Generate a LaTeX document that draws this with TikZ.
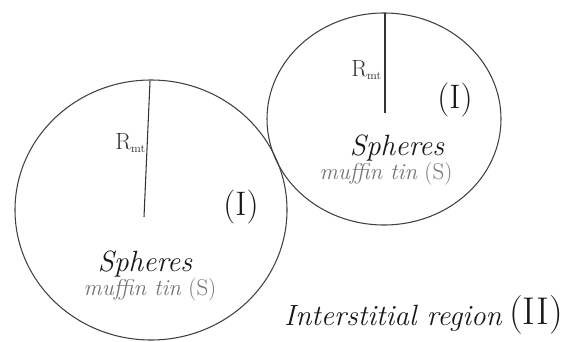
\documentclass[tikz,border=0pt]{standalone}
\begin{document}
\begin{tikzpicture}[x=0.03cm,y=-0.03cm,
  sphere/.style={draw=black!75,line width=0.9pt},
  radline/.style={draw=black!80,line width=0.9pt},
  sph/.style={inner sep=0pt,font=\fontsize{25}{27}\selectfont\itshape,text=black!90},
  muf/.style={inner sep=0pt,font=\fontsize{19.5}{21}\selectfont,text=black!55},
  rom/.style={inner sep=0pt,font=\fontsize{29}{31}\selectfont,text=black!90},
  rmt/.style={inner sep=0pt,font=\fontsize{20}{22}\selectfont,text=black!80}]
\useasboundingbox (0,0) rectangle (570,342);
\fill[white] (0,0) rectangle (570,342);
% spheres
\draw[sphere] (151,210) ellipse [x radius=136, y radius=130];
\draw[sphere] (384,119) ellipse [x radius=117, y radius=106];
% radii
\coordinate (c1) at (144,217);
\coordinate (t1) at (150,81);
\coordinate (c2) at (385,113);
\coordinate (t2) at (385,13);
\draw[radline] (t1) -- (c1);
\draw[radline] (t2) -- (c2);
% labels big sphere
\node[rmt,anchor=east] (r1) at (146,143) {R\textsubscript{\fontsize{10}{11}\selectfont mt}};
\node[rom] (i1) at (241,207) {(I)};
\node[sph] (s1) at (145,264) {Spheres};
\node[muf] (m1) at (150,290) {\textit{muffin tin} (S)};
% labels small sphere
\node[rmt,anchor=east] (r2) at (382,70) {R\textsubscript{\fontsize{10}{11}\selectfont mt}};
\node[rom] (i2) at (455,100) {(I)};
\node[sph] (s2) at (397,148) {Spheres};
\node[muf] (m2) at (386,174) {\textit{muffin tin} (S)};
% interstitial
\node[inner sep=0pt,anchor=east,font=\fontsize{25}{27}\selectfont\itshape,text=black!90] (ir) at (502,318) {Interstitial region};
\node[inner sep=0pt,anchor=west,font=\fontsize{33}{35}\selectfont,text=black!90] (ii) at (509,315) {(II)};
\end{tikzpicture}
\end{document}
